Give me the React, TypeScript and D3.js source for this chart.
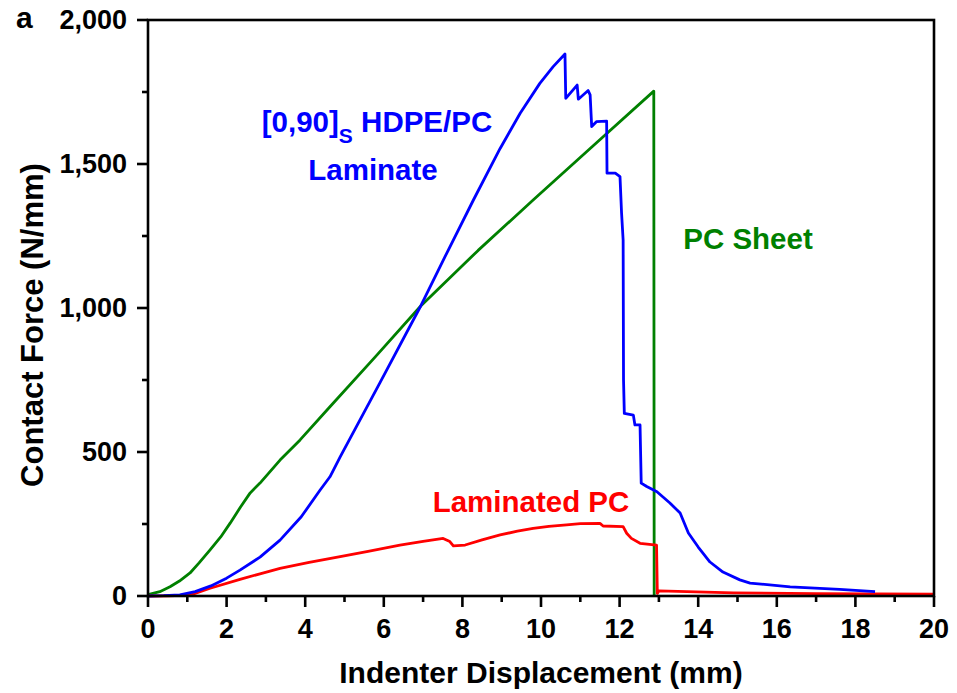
import React from "react";
import * as d3 from "d3";

// Indenter displacement (mm) / contact force (N/mm) for each specimen
const pcSheetX = [0, 0.3, 0.56, 0.8, 1.07, 1.3, 1.58, 1.85, 2.09, 2.35, 2.6, 2.85, 3.36, 3.87, 4.63, 5.8, 6.94, 8.4, 9.8, 11.3, 12.87, 12.88];
const pcSheetY = [5, 15, 32, 52, 80, 115, 160, 205, 253, 308, 358, 392, 472, 542, 657, 833, 1007, 1200, 1375, 1560, 1753, 0];

const hdpeX = [0, 0.4, 0.81, 1.2, 1.6, 2.0, 2.34, 2.85, 3.36, 3.9, 4.38, 4.63, 4.89, 5.9, 6.94, 7.6, 8.28, 8.96, 9.47, 9.97, 10.31, 10.61,
  10.63, 10.92, 10.95, 11.2, 11.25, 11.29, 11.41, 11.67, 11.68, 11.89, 12.01, 12.05, 12.09, 12.1, 12.12, 12.35, 12.39, 12.52, 12.55,
  12.69, 12.95, 13.28, 13.54, 13.75, 14.0, 14.3, 14.63, 15.06, 15.32, 16.34, 17.6, 18.5];
const hdpeY = [0, 1, 4, 15, 35, 62, 90, 135, 194, 275, 368, 414, 483, 740, 1007, 1190, 1375, 1554, 1676, 1780, 1838, 1882,
  1728, 1774, 1725, 1755, 1740, 1630, 1647, 1649, 1468, 1468, 1456, 1330, 1236, 750, 634, 628, 594, 594, 392,
  380, 362, 323, 288, 219, 170, 118, 83, 56, 45, 32, 23, 15];

const lamPcX = [0, 0.5, 1.07, 1.58, 2.34, 2.85, 3.36, 4.1, 4.89, 5.6, 6.41, 7.0, 7.51, 7.68, 7.77, 8.07, 8.5, 8.96, 9.4, 9.8, 10.2, 10.65,
  11.0, 11.5, 11.58, 12.09, 12.18, 12.3, 12.52, 12.94, 12.96, 13.0, 14.9, 17.0, 20.0];
const lamPcY = [0, 0.5, 3, 27, 58, 77, 96, 117, 137, 155, 177, 190, 200, 189, 174, 177, 195, 212, 225, 235, 242, 247,
  251, 252, 243, 241, 218, 200, 183, 177, 9, 18, 11, 8, 6];

const xMajorTicks = [0, 2, 4, 6, 8, 10, 12, 14, 16, 18, 20];
const xMinorTicks = [1, 3, 5, 7, 9, 11, 13, 15, 17, 19];
const yMajorTicks = [0, 500, 1000, 1500, 2000];
const yMinorTicks = [250, 750, 1250, 1750];

const FONT = "'Liberation Sans', Arial, sans-serif";

export default function App() {
  const width = 957;
  const height = 693;
  const x = d3.scaleLinear().domain([0, 20]).range([148, 934]);
  const y = d3.scaleLinear().domain([0, 2000]).range([596, 20]);

  const line = d3
    .line<[number, number]>()
    .x((d) => x(d[0]))
    .y((d) => y(d[1]));

  const zip = (xs: number[], ys: number[]) => xs.map((v, i) => [v, ys[i]] as [number, number]);
  const fmt = d3.format(",");

  const [x0, x1] = x.range();
  const [y0, y1] = y.range();

  return (
    <svg
      width={width}
      height={height}
      style={{ position: "absolute", left: 0, top: 0, background: "#fff" }}
      fontFamily={FONT}
      fontWeight="bold"
    >
      {/* data curves */}
      <path d={line(zip(pcSheetX, pcSheetY)) || ""} fill="none" stroke="#008000" strokeWidth={2.8} strokeLinejoin="round" />
      <path d={line(zip(lamPcX, lamPcY)) || ""} fill="none" stroke="#ff0000" strokeWidth={2.8} strokeLinejoin="round" />
      <path d={line(zip(hdpeX, hdpeY)) || ""} fill="none" stroke="#0000ff" strokeWidth={2.8} strokeLinejoin="round" />

      {/* frame */}
      <rect x={x0} y={y1} width={x1 - x0} height={y0 - y1} fill="none" stroke="#000" strokeWidth={2.6} />

      {/* x axis ticks */}
      {xMajorTicks.map((t) => (
        <g key={"xM" + t}>
          <line x1={x(t)} x2={x(t)} y1={y0} y2={y0 + 11} stroke="#000" strokeWidth={2.6} />
          <text x={x(t)} y={638} textAnchor="middle" fontSize={27}>
            {t}
          </text>
        </g>
      ))}
      {xMinorTicks.map((t) => (
        <line key={"xm" + t} x1={x(t)} x2={x(t)} y1={y0} y2={y0 + 6} stroke="#000" strokeWidth={2.6} />
      ))}

      {/* y axis ticks */}
      {yMajorTicks.map((t) => (
        <g key={"yM" + t}>
          <line x1={x0 - 11} x2={x0} y1={y(t)} y2={y(t)} stroke="#000" strokeWidth={2.6} />
          <text x={127} y={y(t) + 9} textAnchor="end" fontSize={27}>
            {fmt(t)}
          </text>
        </g>
      ))}
      {yMinorTicks.map((t) => (
        <line key={"ym" + t} x1={x0 - 6} x2={x0} y1={y(t)} y2={y(t)} stroke="#000" strokeWidth={2.6} />
      ))}

      {/* axis titles */}
      <text x={541} y={683} textAnchor="middle" fontSize={30}>
        Indenter Displacement (mm)
      </text>
      <text transform="translate(43,325) rotate(-90)" textAnchor="middle" fontSize={31}>
        Contact Force (N/mm)
      </text>

      {/* panel letter */}
      <text x={16} y={28} fontSize={30}>
        a
      </text>

      {/* curve labels */}
      <text x={377} y={132} textAnchor="middle" fontSize={29.5} fill="#0000ff">
        [0,90]<tspan fontSize={21} dy={11}>S</tspan>
        <tspan dy={-11}> HDPE/PC</tspan>
      </text>
      <text x={373} y={180} textAnchor="middle" fontSize={29.5} fill="#0000ff">
        Laminate
      </text>
      <text x={748} y={249} textAnchor="middle" fontSize={29.5} fill="#008000">
        PC Sheet
      </text>
      <text x={531} y={512} textAnchor="middle" fontSize={29.5} fill="#ff0000">
        Laminated PC
      </text>
    </svg>
  );
}
